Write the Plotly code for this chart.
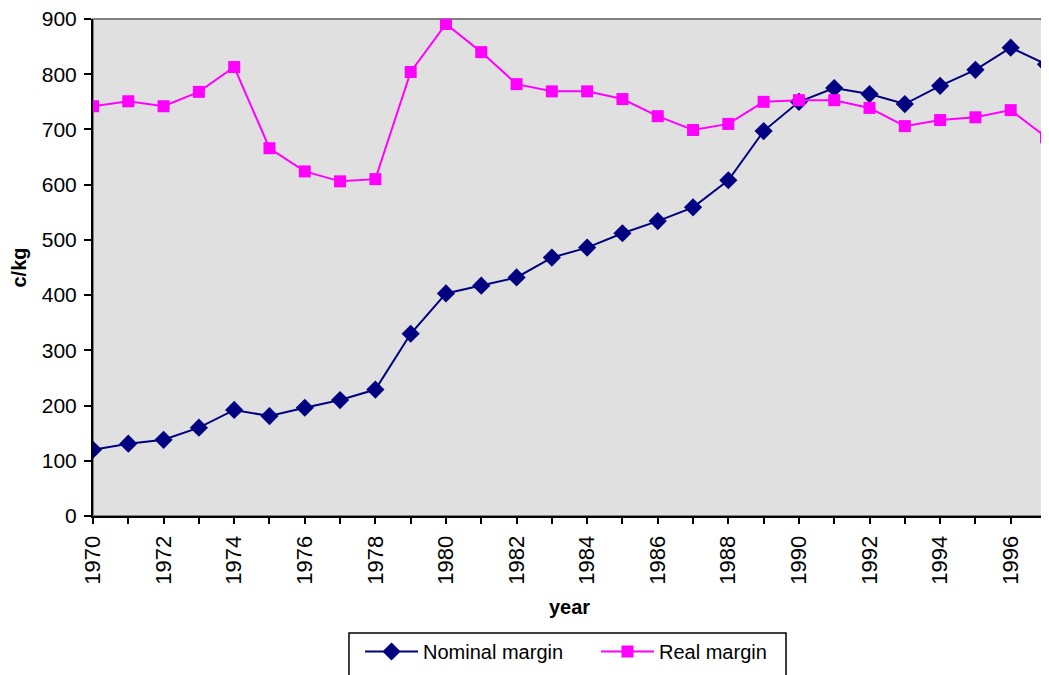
import plotly.graph_objects as go

years = list(range(1970, 1998))
nominal = [120, 131, 138, 160, 192, 181, 196, 210, 229, 330, 403, 417, 432, 468, 486,
           512, 534, 559, 608, 697, 750, 775, 764, 746, 779, 808, 848, 818]
real = [742, 751, 742, 768, 813, 666, 624, 606, 610, 804, 891, 840, 782, 769, 769,
        755, 724, 699, 710, 750, 753, 753, 739, 706, 717, 722, 735, 686]
x_tickvals = list(range(1970, 1998, 2))
y_tickvals = list(range(0, 1000, 100))

font_family = "Liberation Sans, Arial, sans-serif"

fig = go.Figure()
fig.add_trace(go.Scatter(
    x=years, y=nominal, name="Nominal margin", mode="lines+markers",
    line=dict(color="#000080", width=2),
    marker=dict(symbol="diamond", size=14, color="#000080"),
    legend="legend",
))
fig.add_trace(go.Scatter(
    x=years, y=real, name="Real margin", mode="lines+markers",
    line=dict(color="#FF00FF", width=2),
    marker=dict(symbol="square", size=12, color="#FF00FF"),
    legend="legend2",
))

# plot-area frame
fig.add_shape(type="rect", xref="paper", yref="paper", x0=0, y0=0, x1=1, y1=1,
              line=dict(color="#808080", width=2), layer="below")
# legend frame
fig.add_shape(type="rect", xref="paper", yref="paper", x0=0.2686, y0=-0.345,
              x1=0.7272, y1=-0.2354, line=dict(color="black", width=1.5),
              fillcolor="white", layer="below")

legend_common = dict(orientation="h", yanchor="top", xanchor="left",
                     bgcolor="rgba(0,0,0,0)", borderwidth=0,
                     font=dict(size=20), itemwidth=53)

# page body has an 8px margin; figure is sized/offset to compensate
fig.update_layout(
    width=1041, height=667,
    margin=dict(l=85, r=3, t=11, b=159),
    plot_bgcolor="#E0E0E0", paper_bgcolor="white",
    font=dict(family=font_family, size=21, color="black"),
    showlegend=True,
    legend=dict(x=0.2802, y=-0.2334, **legend_common),
    legend2=dict(x=0.5278, y=-0.2334, **legend_common),
)
fig.update_xaxes(
    range=[1970, 1997], tickvals=x_tickvals, ticktext=[str(v) for v in x_tickvals],
    tickangle=-90, ticks="outside", ticklen=6, tickcolor="black", tickwidth=2,
    tickfont=dict(size=22), ticklabelstandoff=3, ticklabeloverflow="allow",
    minor=dict(ticks="outside", dtick=1, tick0=1970, ticklen=6, tickcolor="black", tickwidth=2),
    showline=True, linecolor="black", linewidth=2, showgrid=False, zeroline=False,
    automargin=False,
    title=dict(text="<b>year</b>", font=dict(size=20), standoff=16),
)
fig.update_yaxes(
    range=[0, 900], tickvals=y_tickvals, ticks="outside", ticklen=7,
    tickcolor="black", tickwidth=2, ticklabelstandoff=3, ticklabeloverflow="allow",
    showline=True, linecolor="black", linewidth=2, showgrid=False, zeroline=False,
    automargin=False,
    title=dict(text="<b>c/kg</b>", font=dict(size=20), standoff=12),
)

fig.write_html("out.html")
